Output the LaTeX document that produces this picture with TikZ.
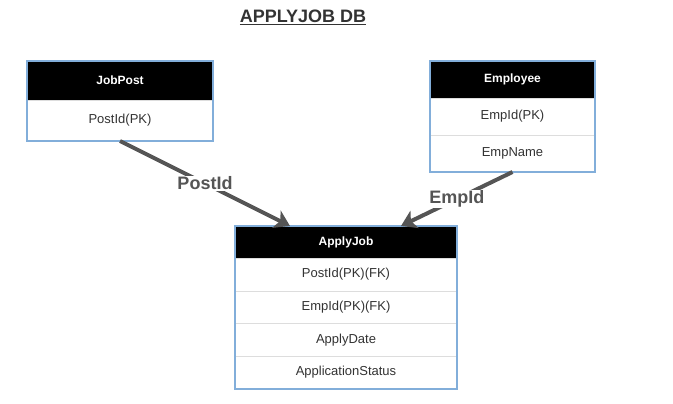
\documentclass[tikz,border=0pt]{standalone}
\usepackage{fontspec}
\setmainfont{Liberation Sans}
\usetikzlibrary{positioning}
\usetikzlibrary{fit}
\usetikzlibrary{arrows.meta}
\definecolor{tableline}{HTML}{82AEDA}
\definecolor{rowline}{HTML}{DDDDDD}
\definecolor{linkgray}{HTML}{555555}
\definecolor{textgray}{HTML}{333333}

\begin{document}
\begin{tikzpicture}[x=1pt, y=-1pt, head/.style={rectangle, fill=black, text=white, inner sep=0pt, outer sep=0pt, font=\fontsize{12}{14}\selectfont\bfseries}, field/.style={rectangle, fill=white, draw=rowline, inner sep=0pt, outer sep=0pt, text=textgray, font=\fontsize{13}{15}\selectfont}, tablebox/.style={rectangle, draw=tableline, line width=1.2pt, inner sep=0pt, outer sep=0pt}, link/.style={draw=linkgray, line width=4pt, -{Stealth[length=15pt, width=19pt, inset=4pt]}}, linklabel/.style={fill=white, inner sep=1pt, text=linkgray, font=\fontsize{18}{20}\selectfont\bfseries}]
	\useasboundingbox (0,0) rectangle (673,404);

	% title
	\node[text=textgray, font=\fontsize{18}{20}\selectfont\bfseries] (title) at (303,17) {\underline{APPLYJOB DB}};

	% tables
	\node[head, minimum width=186, minimum height=39] (jobpost) at (120,80.5) {JobPost};
	\node[field, below=0pt of jobpost, minimum width=186, minimum height=41] (postidpk) {PostId(PK)};

	\node[head, minimum width=165, minimum height=37] (employee) at (512.5,79.5) {Employee};
	\node[field, below=0pt of employee, minimum width=165, minimum height=37] (empidpk) {EmpId(PK)};
	\node[field, below=0pt of empidpk, minimum width=165, minimum height=37] (empname) {EmpName};

	\node[head, minimum width=222, minimum height=32] (applyjob) at (346,242) {ApplyJob};
	\node[field, below=0pt of applyjob, minimum width=222, minimum height=33] (postidfk) {PostId(PK)(FK)};
	\node[field, below=0pt of postidfk, minimum width=222, minimum height=32.5] (empidfk) {EmpId(PK)(FK)};
	\node[field, below=0pt of empidfk, minimum width=222, minimum height=32.5] (applydate) {ApplyDate};
	\node[field, below=0pt of applydate, minimum width=222, minimum height=33] (appstatus) {ApplicationStatus};

	% borders
	\node[tablebox, fit=(jobpost)(postidpk)] (jobpostbox) {};
	\node[tablebox, fit=(employee)(empname)] (employeebox) {};
	\node[tablebox, fit=(applyjob)(appstatus)] (applyjobbox) {};

	% links
	\draw[link] (jobpostbox.south) -- node[linklabel] {PostId} ([xshift=55pt]applyjobbox.north west);
	\draw[link] (employeebox.south) -- node[linklabel] {EmpId} ([xshift=-56pt]applyjobbox.north east);
\end{tikzpicture}
\end{document}
